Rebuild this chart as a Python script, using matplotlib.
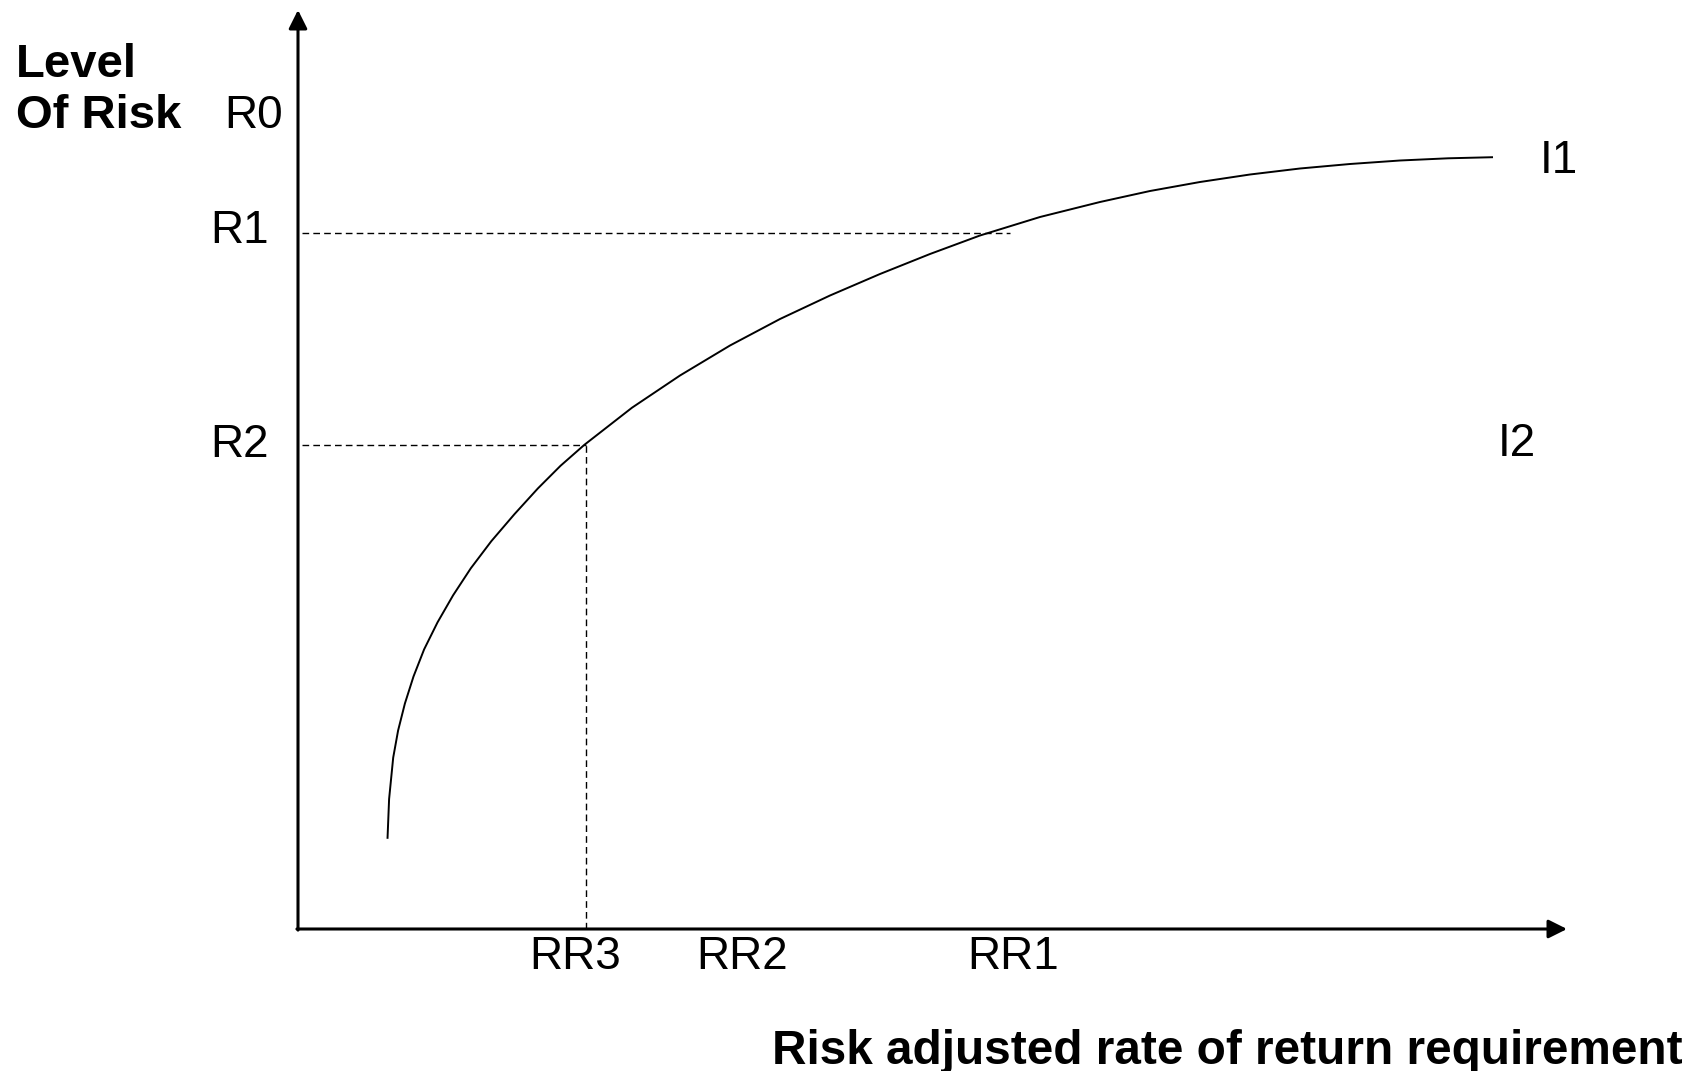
import numpy as np
import matplotlib
matplotlib.use('Agg')
import matplotlib.pyplot as plt

plt.rcParams['font.family'] = ['Liberation Sans', 'DejaVu Sans']

# indifference curve I1 (x = required return, y = risk)
curve_x = [0.895, 0.911, 0.952, 1.001, 1.069, 1.155, 1.261, 1.395, 1.551,
           1.728, 1.933, 2.165, 2.399, 2.625, 2.864, 3.34, 3.82, 4.32, 4.82,
           5.32, 5.82, 6.32, 6.82, 7.42, 8.02, 8.52, 9.02, 9.52, 10.02,
           10.52, 11.02, 11.5, 11.95]
curve_y = [0.902, 1.30, 1.714, 1.985, 2.255, 2.525, 2.796, 3.066, 3.337,
           3.607, 3.878, 4.149, 4.406, 4.632, 4.842, 5.213, 5.535, 5.835, 6.10,
           6.335, 6.55, 6.75, 6.935, 7.12, 7.27, 7.38, 7.47, 7.545, 7.605,
           7.65, 7.685, 7.707, 7.718]

risk_labels = ['R0', 'R1', 'R2']
risk_levels = [8.01, 6.86, 4.72]      # label baselines
r1_level = 6.963
r2_level = 4.84
rr_labels = ['RR3', 'RR2', 'RR1']
rr_values = [2.77, 4.445, 7.15]
rr1_end = 7.12
rr3_x = 2.875

xmax, ymax = 12.69, 9.22

fig = plt.figure(figsize=(16.97, 10.71), dpi=100)
ax = fig.add_axes([298 / 1697, 142 / 1071, 1269 / 1697, 922 / 1071])
ax.set_xlim(0, xmax)
ax.set_ylim(0, ymax)
ax.axis('off')

# axes with arrow heads
arrow = dict(arrowstyle='-|>', lw=2.2, color='black', mutation_scale=28,
             shrinkA=0, shrinkB=0)
ax.annotate('', xy=(xmax, 0), xytext=(-0.011, 0), arrowprops=arrow, annotation_clip=False)
ax.annotate('', xy=(0, ymax - 0.03), xytext=(0, -0.011), arrowprops=arrow, annotation_clip=False)

ax.plot(curve_x, curve_y, color='black', lw=1.4, solid_capstyle='butt',
        solid_joinstyle='round', clip_on=False)

dash = dict(color='black', lw=1.0, linestyle=(0, (4.8, 3.0)))
ax.plot([0.04, rr1_end], [r1_level, r1_level], **dash)
ax.plot([0.04, rr3_x], [r2_level, r2_level], **dash)
ax.plot([rr3_x, rr3_x], [0, r2_level], **dash)

fs = 33
ax.text(-0.15, risk_levels[0], risk_labels[0], fontsize=fs, ha='right', va='baseline')
for lab, y in zip(risk_labels[1:], risk_levels[1:]):
    ax.text(-0.29, y, lab, fontsize=fs, ha='right', va='baseline')
for lab, x in zip(rr_labels, rr_values):
    ax.text(x, -0.40, lab, fontsize=fs, ha='center', va='baseline')

ax.text(12.42, 7.56, 'I1', fontsize=fs, ha='left', va='baseline')
ax.text(12.00, 4.73, 'I2', fontsize=fs, ha='left', va='baseline')

ax.text(-2.82, 8.52, 'Level', fontsize=34, fontweight='bold', ha='left', va='baseline')
ax.text(-2.82, 8.01, 'Of Risk', fontsize=34, fontweight='bold', ha='left', va='baseline')
ax.text(13.85, -1.345, 'Risk adjusted rate of return requirement', fontsize=34.4,
        fontweight='bold', ha='right', va='baseline')

fig.savefig('out.png', dpi=100)
